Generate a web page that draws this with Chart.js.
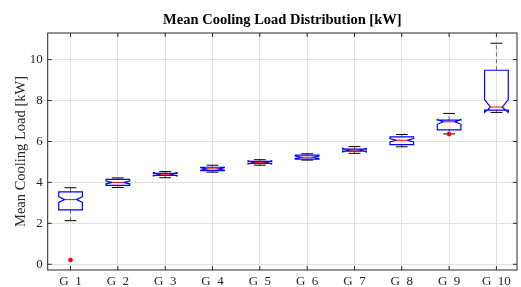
<!DOCTYPE html>
<html>
<head>
<meta charset="utf-8">
<script src="https://cdn.jsdelivr.net/npm/chart.js@4.4.1/dist/chart.umd.min.js"></script>
<style>
  html, body { margin: 0; padding: 0; background: #fff; }
  #wrap { width: 521px; height: 287px; }
</style>
</head>
<body>
<div id="wrap"><canvas id="boxChart"></canvas></div>
<script>
// Notched boxplot summary per group (kW)
const groups      = ['G  1', 'G  2', 'G  3', 'G  4', 'G  5', 'G  6', 'G  7', 'G  8', 'G  9', 'G  10'];
const whiskerHigh = [3.74, 4.22, 4.53, 4.84, 5.11, 5.40, 5.75, 6.34, 7.37, 10.80];
const q3          = [3.54, 4.15, 4.44, 4.74, 5.03, 5.33, 5.63, 6.22, 7.04, 9.48];
const notchHigh   = [3.30, 4.07, 4.48, 4.72, 5.06, 5.29, 5.67, 6.14, 7.08, 8.05];
const median      = [3.16, 4.00, 4.40, 4.66, 4.98, 5.23, 5.58, 6.06, 6.96, 7.68];
const notchLow    = [3.02, 3.93, 4.32, 4.60, 4.90, 5.17, 5.49, 5.98, 6.84, 7.42];
const q1          = [2.66, 3.85, 4.34, 4.58, 4.93, 5.14, 5.53, 5.85, 6.57, 7.53];
const whiskerLow  = [2.13, 3.75, 4.23, 4.50, 4.84, 5.09, 5.42, 5.74, 6.37, 7.42];
const outlierGroup = [1, 9];
const outlierValue = [0.21, 6.36];
const yTicks = [0, 2, 4, 6, 8, 10];

const serif = "'Liberation Serif', 'Times New Roman', serif";
const axisColor = '#262626';

const boxPlugin = {
  id: 'notchedBoxes',
  beforeDatasetsDraw(chart) {
    const { ctx, scales: { x, y } } = chart;
    const py = v => y.getPixelForValue(v);
    ctx.save();
    groups.forEach((g, i) => {
      const pos = i + 1;
      const c = x.getPixelForValue(pos);
      const L = x.getPixelForValue(pos - 0.25), R = x.getPixelForValue(pos + 0.25);
      const iL = x.getPixelForValue(pos - 0.125), iR = x.getPixelForValue(pos + 0.125);

      // whiskers
      ctx.strokeStyle = '#666';
      ctx.lineWidth = 1;
      ctx.setLineDash([4, 3]);
      ctx.beginPath();
      ctx.moveTo(c, py(q3[i])); ctx.lineTo(c, py(whiskerHigh[i]));
      ctx.moveTo(c, py(q1[i])); ctx.lineTo(c, py(whiskerLow[i]));
      ctx.stroke();
      ctx.setLineDash([]);

      // caps
      ctx.strokeStyle = '#000';
      ctx.beginPath();
      ctx.moveTo(iL, py(whiskerHigh[i])); ctx.lineTo(iR, py(whiskerHigh[i]));
      ctx.moveTo(iL, py(whiskerLow[i])); ctx.lineTo(iR, py(whiskerLow[i]));
      ctx.stroke();

      // notched box
      ctx.strokeStyle = '#0000ff';
      ctx.lineWidth = 1.2;
      ctx.beginPath();
      ctx.moveTo(L, py(q1[i]));
      ctx.lineTo(L, py(notchLow[i]));
      ctx.lineTo(iL, py(median[i]));
      ctx.lineTo(L, py(notchHigh[i]));
      ctx.lineTo(L, py(q3[i]));
      ctx.lineTo(R, py(q3[i]));
      ctx.lineTo(R, py(notchHigh[i]));
      ctx.lineTo(iR, py(median[i]));
      ctx.lineTo(R, py(notchLow[i]));
      ctx.lineTo(R, py(q1[i]));
      ctx.closePath();
      ctx.stroke();

      // median
      ctx.strokeStyle = '#ff0000';
      ctx.lineWidth = 1;
      ctx.beginPath();
      ctx.moveTo(iL, py(median[i])); ctx.lineTo(iR, py(median[i]));
      ctx.stroke();
    });
    ctx.restore();
  }
};

const framePlugin = {
  id: 'frame',
  afterDraw(chart) {
    const { ctx, chartArea: a, scales: { x, y } } = chart;
    ctx.save();
    ctx.strokeStyle = axisColor;
    ctx.lineWidth = 1;
    ctx.strokeRect(a.left, a.top, a.right - a.left, a.bottom - a.top);
    ctx.beginPath();
    yTicks.forEach(v => {
      const p = y.getPixelForValue(v);
      ctx.moveTo(a.left, p); ctx.lineTo(a.left + 4, p);
      ctx.moveTo(a.right, p); ctx.lineTo(a.right - 4, p);
    });
    groups.forEach((g, i) => {
      const p = x.getPixelForValue(i + 1);
      ctx.moveTo(p, a.bottom); ctx.lineTo(p, a.bottom - 4);
      ctx.moveTo(p, a.top); ctx.lineTo(p, a.top + 4);
    });
    ctx.stroke();
    ctx.restore();
  }
};

new Chart(document.getElementById('boxChart'), {
  type: 'scatter',
  data: {
    datasets: [{
      label: 'Outliers',
      data: outlierGroup.map((g, i) => ({ x: g, y: outlierValue[i] })),
      pointRadius: 2.3,
      pointBackgroundColor: '#ff0000',
      pointBorderWidth: 0,
      showLine: false
    }]
  },
  options: {
    responsive: true,
    maintainAspectRatio: false,
    animation: false,
    layout: { padding: { left: 0, right: 0.5, top: 0, bottom: 0 } },
    plugins: {
      legend: { display: false },
      tooltip: { enabled: false },
      title: {
        display: true,
        fullSize: false,
        text: 'Mean Cooling Load Distribution [kW]',
        color: '#000',
        font: { family: serif, size: 14.5, weight: 'bold' },
        padding: { top: 12, bottom: 3.6 }
      }
    },
    scales: {
      x: {
        type: 'linear',
        min: 0.517,
        max: 10.435,
        afterBuildTicks: s => { s.ticks = groups.map((g, i) => ({ value: i + 1 })); },
        afterFit: s => { s.height = 17; },
        grid: { color: '#e0e0e0', drawTicks: false },
        border: { display: false },
        ticks: {
          callback: v => groups[v - 1],
          color: axisColor,
          font: { family: serif, size: 13 },
          padding: 4,
          maxRotation: 0,
          autoSkip: false
        }
      },
      y: {
        min: -0.28,
        max: 11.3,
        afterBuildTicks: s => { s.ticks = yTicks.map(v => ({ value: v })); },
        afterFit: s => { s.width = 47.7; },
        grid: { color: '#e0e0e0', drawTicks: false },
        border: { display: false },
        ticks: {
          color: axisColor,
          font: { family: serif, size: 13 },
          padding: 5
        },
        title: {
          display: true,
          text: 'Mean Cooling Load [kW]',
          color: axisColor,
          font: { family: serif, size: 14.5 },
          padding: { top: 12.5, bottom: 0 }
        }
      }
    }
  },
  plugins: [boxPlugin, framePlugin]
});
</script>
</body>
</html>
